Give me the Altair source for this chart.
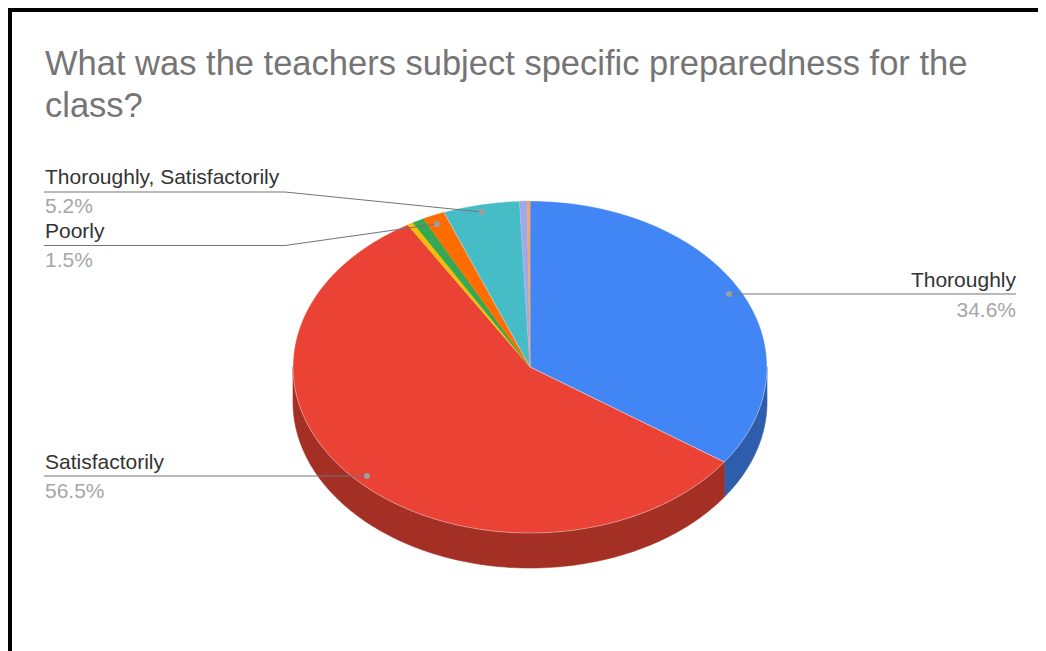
import math
import altair as alt
import pandas as pd

TITLE_LINES = ["What was the teachers subject specific preparedness for the", "class?"]
CATEGORIES = ["Thoroughly", "Satisfactorily", "Other A", "Other B", "Poorly",
              "Thoroughly, Satisfactorily", "Other C", "Other D"]
SHARES = [34.6, 56.5, 0.4, 0.8, 1.5, 5.2, 0.5, 0.2]
TOP_COLOURS = ["#4285F4", "#EA4335", "#FBBC04", "#34A853", "#FF6D01", "#46BDC6", "#9FA8E8", "#F2A66B"]
SIDE_COLOURS = ["#2E5DAB", "#A32F25", "#B08403", "#24763A", "#B34C01", "#31848B", "#636FA2", "#A9744B"]
LABELLED = ["Thoroughly", "Thoroughly, Satisfactorily", "Poorly", "Satisfactorily"]
LABEL_PERCENT = ["34.6%", "5.2%", "1.5%", "56.5%"]

W, H = 1030, 643
CX, CY, RX, RY, DEPTH = 522, 359, 237, 166, 35


def ex(t):
    return CX + RX * math.sin(t)


def ey(t):
    return CY - RY * math.cos(t)


def steps(a, b, deg=1.0):
    n = max(2, int(abs(b - a) / math.radians(deg)) + 1)
    return [a + (b - a) * i / (n - 1) for i in range(n)]


X = alt.X("x:Q", scale=alt.Scale(domain=[0, W], range=[0, W]), axis=None)
Y = alt.Y("y:Q", scale=alt.Scale(domain=[0, H], range=[0, H]), axis=None)
ORDER = alt.Order("i:Q")


def poly(points, fill, stroke=None, sw=0.6):
    df = pd.DataFrame([{"i": i, "x": p[0], "y": p[1]} for i, p in enumerate(points)])
    return alt.Chart(df).mark_line(
        interpolate="linear-closed", fill=fill, stroke=stroke or fill, strokeWidth=sw
    ).encode(x=X, y=Y, order=ORDER)


def line(points, colour="#757575", sw=1.2):
    df = pd.DataFrame([{"i": i, "x": p[0], "y": p[1]} for i, p in enumerate(points)])
    return alt.Chart(df).mark_line(color=colour, strokeWidth=sw).encode(x=X, y=Y, order=ORDER)


def text(x, y, s, colour, align="left", size=21):
    df = pd.DataFrame([{"x": x, "y": y, "t": s}])
    return alt.Chart(df).mark_text(
        font="Liberation Sans", fontSize=size, color=colour, align=align, baseline="alphabetic"
    ).encode(x=X, y=Y, text="t:N")


def rect(x1, y1, x2, y2, colour):
    df = pd.DataFrame([{"x": x1, "y": y1, "x2": x2, "y2": y2}])
    return alt.Chart(df).mark_rect(color=colour).encode(x=X, y=Y, x2="x2:Q", y2="y2:Q")


layers = [rect(0, 0, 4, H, "#000000"), rect(0, 0, W, 4, "#000000")]

# angular extents of the slices
bounds = [0.0]
for s in SHARES:
    bounds.append(bounds[-1] + s / sum(SHARES) * 2 * math.pi)

# side wall (only the front half of the rim is visible)
for k in range(len(SHARES)):
    a, b = max(bounds[k], math.pi / 2), min(bounds[k + 1], 3 * math.pi / 2)
    if b <= a:
        continue
    ts = steps(a, b)
    pts = [(ex(t), ey(t)) for t in ts] + [(ex(t), ey(t) + DEPTH) for t in reversed(ts)]
    layers.append(poly(pts, SIDE_COLOURS[k]))

# top face
for k in range(len(SHARES)):
    ts = steps(bounds[k], bounds[k + 1])
    pts = [(CX, CY)] + [(ex(t), ey(t)) for t in ts]
    layers.append(poly(pts, TOP_COLOURS[k], "#F4F4F4" if SHARES[k] > 5 else TOP_COLOURS[k], 0.4))

# leader lines and their dots
leaders = {
    "Thoroughly": [(721, 286), (1008, 286)],
    "Thoroughly, Satisfactorily": [(36, 184), (277, 184), (474, 204)],
    "Poorly": [(36, 237.5), (277, 237.5), (429, 216)],
    "Satisfactorily": [(36, 468), (359, 468)],
}
for name, pts in leaders.items():
    layers.append(line(pts))
    dot = pd.DataFrame([{"x": pts[-1][0] if name != "Thoroughly" else pts[0][0],
                         "y": pts[-1][1]}])
    layers.append(alt.Chart(dot).mark_point(filled=True, color="#9E9E9E", size=36, opacity=1).encode(x=X, y=Y))

# labels
for name, pct, (x, y, py, al) in zip(LABELLED, LABEL_PERCENT, [
    (1008, 279, 309, "right"),
    (37, 176, 205, "left"),
    (37, 230, 259, "left"),
    (37, 461, 490, "left"),
]):
    layers.append(text(x, y, name, "#333333", al))
    layers.append(text(x, py, pct, "#A6A6A6", al))

chart = alt.layer(*layers).properties(
    width=W,
    height=H,
    autosize=alt.AutoSizeParams(type="none"),
    padding=0,
    title=alt.TitleParams(
        text=TITLE_LINES,
        anchor="start",
        frame="group",
        font="Liberation Sans",
        fontSize=34.5,
        fontWeight="normal",
        color="#757575",
        lineHeight=42,
        baseline="alphabetic",
        offset=0,
        dx=37,
        dy=143,
    ),
).configure_view(stroke=None).configure(background="white")

chart.save("out.html", embed_options={"renderer": "svg", "actions": False})
